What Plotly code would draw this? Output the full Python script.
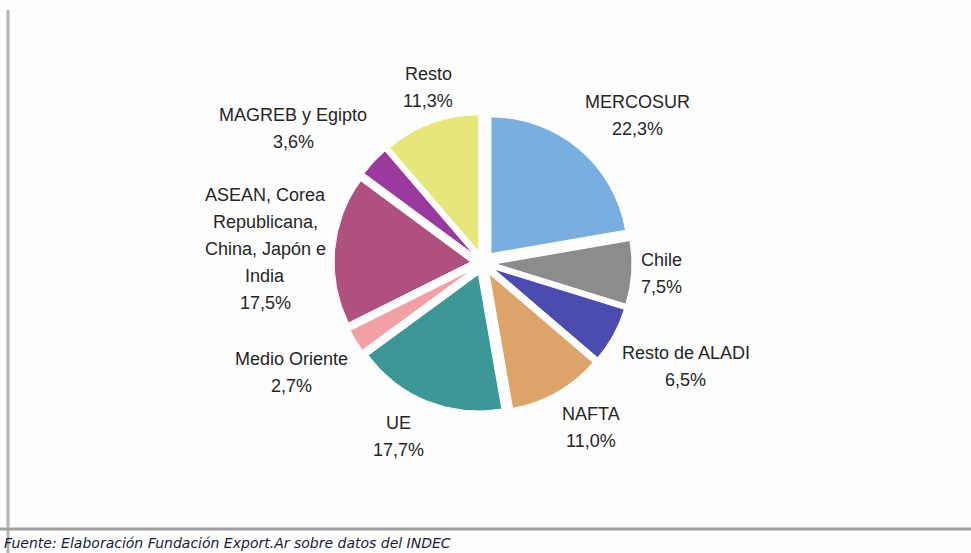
import math
import plotly.graph_objects as go

# ---------------- data ----------------
categories = ["MERCOSUR", "Chile", "Resto de ALADI", "NAFTA", "UE", "Medio Oriente",
              "ASEAN, Corea Republicana, China, Japón e India", "MAGREB y Egipto", "Resto"]
label_lines = [["MERCOSUR"], ["Chile"], ["Resto de ALADI"], ["NAFTA"], ["UE"], ["Medio Oriente"],
               ["ASEAN, Corea", "Republicana,", "China, Japón e", "India"], ["MAGREB y Egipto"], ["Resto"]]
values = [22.3, 7.5, 6.5, 11.0, 17.7, 2.7, 17.5, 3.6, 11.3]
colors = ["#78aee0", "#8c8c8c", "#4b4bb0", "#dca468", "#3c9896", "#f2a0a6", "#b0507e", "#9b3a9e", "#e6e67a"]
source = "Fuente: Elaboración Fundación Export.Ar sobre datos del INDEC"

# ---------------- layout constants ----------------
W, H = 971, 553
CX, CY = 483, 263      # pie centre (pixels from top-left)
HALF = 149             # half size of pie domain
LABEL_R = 158          # label anchor radius
LS = 27                # line spacing of labels
FS = 18                # label font size
T = 0.36

ARIAL = {"M": .833, "E": .667, "R": .722, "C": .722, "O": .778, "S": .667, "U": .722, "A": .667,
         "N": .722, "G": .778, "B": .667, "F": .611, "T": .611, "L": .556, "D": .722, "I": .278,
         "J": .5, "P": .667, "a": .556, "b": .556, "c": .5, "d": .556, "e": .556, "g": .556,
         "h": .556, "i": .222, "l": .222, "n": .556, "o": .556, "p": .556, "r": .333, "s": .5,
         "t": .278, "u": .556, "y": .5, "ó": .556, ",": .278, "%": .889, " ": .278}


def text_w(s):
    return sum(ARIAL.get(ch, .556) for ch in s) * FS


fig = go.Figure(go.Pie(
    labels=categories, values=values, sort=False, direction="clockwise", rotation=0,
    pull=[0.09] * len(values),
    marker=dict(colors=colors, line=dict(color="white", width=1)),
    textinfo="none", hoverinfo="label+percent",
    domain=dict(x=[(CX - HALF) / W, (CX + HALF) / W], y=[1 - (CY + HALF) / H, 1 - (CY - HALF) / H]),
    showlegend=False,
))

annotations = []
total = sum(values)
cum = 0.0
for lines, v in zip(label_lines, values):
    frac = (cum + v / 2) / total
    cum += v
    th = 2 * math.pi * frac
    s, c = math.sin(th), math.cos(th)
    px, py = CX + LABEL_R * s, CY - LABEL_R * c
    pct = f"{v:.1f}".replace(".", ",") + "%"
    all_lines = lines + [pct]
    bw = max(text_w(l) for l in all_lines)
    bh = len(all_lines) * LS
    if s > T:
        bx = px + bw / 2
    elif s < -T:
        bx = px - bw / 2
    else:
        bx = px
    if c > T:
        top = py - bh
    elif c < -T:
        top = py
    else:
        top = py - bh / 2
    for i, l in enumerate(all_lines):
        ly = top + LS / 2 + i * LS
        annotations.append(dict(x=bx / W, y=1 - ly / H, xref="paper", yref="paper", text=l,
                                showarrow=False, xanchor="center", yanchor="middle",
                                font=dict(family="Liberation Sans, Arial", size=FS, color="#262626")))

annotations.append(dict(x=2 / W, y=1 - 543 / H, xref="paper", yref="paper", text=source, showarrow=False,
                        xanchor="left", yanchor="middle",
                        font=dict(family="DejaVu Sans", size=14, color="#1a1a3a", style="italic")))

shapes = [
    dict(type="line", xref="paper", yref="paper", x0=8 / W, x1=8 / W, y0=1 - 10 / H, y1=0,
         line=dict(color="#b4b4b4", width=3)),
    dict(type="line", xref="paper", yref="paper", x0=0, x1=1, y0=1 - 529 / H, y1=1 - 529 / H,
         line=dict(color="#a0a0a0", width=3)),
]

fig.update_layout(width=W, height=H, margin=dict(l=0, r=0, t=0, b=0),
                  paper_bgcolor="#fdfdfd", plot_bgcolor="#fdfdfd",
                  annotations=annotations, shapes=shapes)

fig.write_html("out.html", config={"displayModeBar": False},
               post_script="document.body.style.margin='0';document.body.style.overflow='hidden';")
